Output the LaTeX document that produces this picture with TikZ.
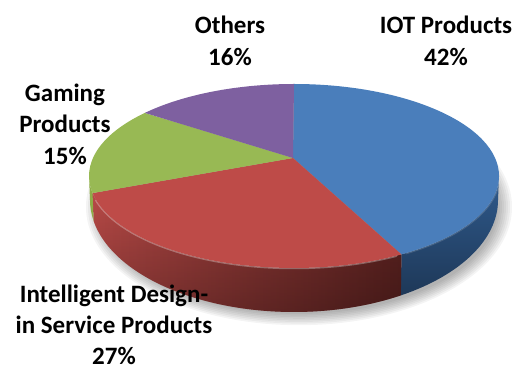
\documentclass[tikz,border=0pt]{standalone}
\usepackage{fontspec}
\setmainfont{Carlito}
\usetikzlibrary{calc,fadings}
\definecolor{iotblue}{HTML}{4A7EBB}
\definecolor{iotsideT}{HTML}{2F5A8C}
\definecolor{iotside}{HTML}{1E3858}
\definecolor{idred}{HTML}{BE4B48}
\definecolor{idsideL}{HTML}{B84A47}
\definecolor{idsideM}{HTML}{A8433F}
\definecolor{idsideR}{HTML}{5E2321}
\definecolor{gamegreen}{HTML}{98B954}
\definecolor{gameside}{HTML}{8EAD48}
\definecolor{othpurple}{HTML}{7E60A0}
\tikzset{
  lbl/.style={font=\bfseries\fontsize{25}{31.5}\selectfont, align=center, text=black, inner sep=0pt},
  shadowring/.style={fill=black, opacity=0.045}
}
\begin{document}
\begin{tikzpicture}[x=1pt,y=1pt]
\useasboundingbox (0,0) rectangle (529,374);
% soft shadow
\foreach \i in {0,...,7}
  \path[shadowring] (299,167) ellipse ({199+2*\i} and {107+1.6*\i});
\coordinate (apex) at (293,216);
\coordinate (c1) at (294,198);
\coordinate (c2) at (294,174);
% sides
\shade[top color=iotsideT, bottom color=iotside] ($(c1)+(-58.4:205 and 92)$) arc[start angle=-58.4, end angle=0, x radius=205, y radius=92]
  -- ($(c2)+(0:204 and 112)$) arc[start angle=0, end angle=-58.4, x radius=204, y radius=112] -- cycle;
\shade[left color=idsideL, middle color=idsideM, right color=idsideR]
  ($(c1)+(-169.3:205 and 92)$) arc[start angle=-169.3, end angle=-58.4, x radius=205, y radius=92]
  -- ($(c2)+(-58.4:204 and 112)$) arc[start angle=-58.4, end angle=-169.3, x radius=204, y radius=112] -- cycle;
\fill[black, opacity=0.3, path fading=north]
  ($(c1)+(-169.3:205 and 92)$) arc[start angle=-169.3, end angle=-58.4, x radius=205, y radius=92]
  -- ($(c2)+(-58.4:204 and 112)$) arc[start angle=-58.4, end angle=-169.3, x radius=204, y radius=112] -- cycle;
\fill[gameside] ($(c1)+(-180:205 and 92)$) arc[start angle=-180, end angle=-169.3, x radius=205, y radius=92]
  -- ($(c2)+(-169.3:204 and 112)$) arc[start angle=-169.3, end angle=-180, x radius=204, y radius=112] -- cycle;
% bevel highlights
\draw[white, opacity=0.3, line width=2.5pt] ($(c1)+(-165:205 and 92)$) arc[start angle=-165, end angle=-60, x radius=205, y radius=92];
\draw[white, opacity=0.15, line width=2.5pt] ($(c1)+(-57:205 and 92)$) arc[start angle=-57, end angle=-2, x radius=205, y radius=92];
% top faces
\fill[iotblue] (apex) -- ($(c1)+(90:205 and 92)$) arc[start angle=90, end angle=-58.4, x radius=205, y radius=92] -- cycle;
\fill[idred] (apex) -- ($(c1)+(-58.4:205 and 92)$) arc[start angle=-58.4, end angle=-169.3, x radius=205, y radius=92] -- cycle;
\fill[gamegreen] (apex) -- ($(c1)+(190.7:205 and 92)$) arc[start angle=190.7, end angle=136.7, x radius=205, y radius=92] -- cycle;
\fill[othpurple] (apex) -- ($(c1)+(136.7:205 and 92)$) arc[start angle=136.7, end angle=90, x radius=205, y radius=92] -- cycle;
% labels
\node[lbl] (oth) at (230,333) {Others\\16\%};
\node[lbl] (iot) at (446,333) {IOT Products\\42\%};
\node[lbl] (gam) at (65,250) {Gaming\\Products\\15\%};
\node[lbl, font=\bfseries\fontsize{25}{31}\selectfont, text depth=0pt, anchor=south] (ids) at (114,9) {Intelligent Design-\\in Service Products\\27\%};
\end{tikzpicture}
\end{document}
